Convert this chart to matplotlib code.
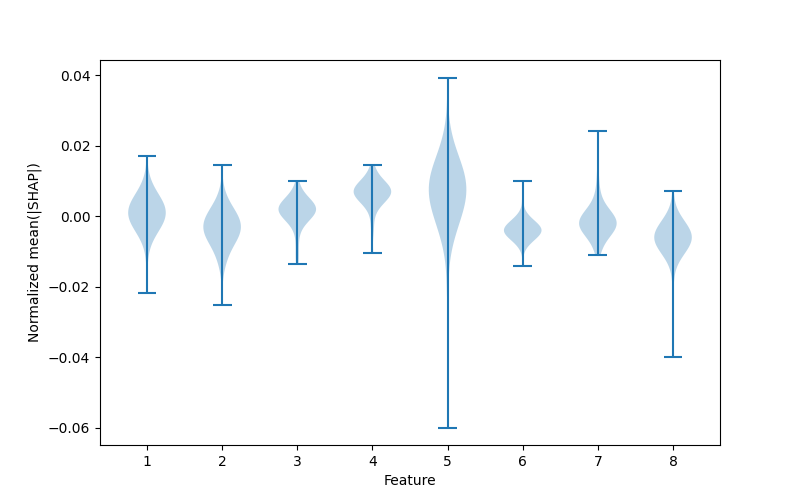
import numpy as np
import matplotlib
matplotlib.use('Agg')
import matplotlib.pyplot as plt

# normalized mean(|SHAP|) values per feature, written as value / count pairs
features = [1, 2, 3, 4, 5, 6, 7, 8]

f1_vals = [-0.0217, -0.014, -0.011, -0.009, -0.007, -0.005, -0.003, -0.001, 0.001,
           0.003, 0.005, 0.007, 0.009, 0.011, 0.013, 0.0172]
f1_counts = [1, 1, 1, 2, 4, 7, 11, 14, 15, 14, 11, 7, 4, 2, 1, 1]

f2_vals = [-0.0251, -0.018, -0.015, -0.013, -0.011, -0.009, -0.007, -0.005, -0.003,
           -0.001, 0.001, 0.003, 0.005, 0.007, 0.009, 0.0146]
f2_counts = [1, 1, 2, 3, 5, 7, 11, 14, 15, 14, 11, 7, 4, 2, 1, 1]

f3_vals = [-0.0137, -0.012, -0.010, -0.008, -0.006, -0.004, -0.002, 0.000, 0.002,
           0.004, 0.006, 0.008, 0.0099]
f3_counts = [1, 1, 1, 1, 1, 2, 5, 11, 15, 11, 5, 2, 1]

f4_vals = [-0.0103, -0.005, -0.003, -0.001, 0.001, 0.003, 0.005, 0.007, 0.009,
           0.011, 0.013, 0.0146]
f4_counts = [1, 1, 1, 1, 2, 5, 11, 15, 11, 5, 2, 1]

f5_vals = [-0.0600, -0.022, -0.017, -0.0133, -0.0103, -0.0073, -0.0043, -0.0013,
           0.0017, 0.0047, 0.0077, 0.0107, 0.0137, 0.0167, 0.0197, 0.0227, 0.0257,
           0.029, 0.0394]
f5_counts = [1, 1, 1, 1, 2, 4, 6, 9, 12, 14, 15, 14, 12, 8, 5, 3, 1, 1, 1]

f6_vals = [-0.0140, -0.010, -0.0085, -0.007, -0.0055, -0.004, -0.0025, -0.001,
           0.0005, 0.002, 0.005, 0.0099]
f6_counts = [1, 1, 3, 7, 12, 15, 12, 7, 3, 1, 1, 1]

f7_vals = [-0.0109, -0.010, -0.008, -0.006, -0.004, -0.002, 0.000, 0.002, 0.004,
           0.006, 0.008, 0.010, 0.013, 0.0243]
f7_counts = [1, 2, 3, 7, 12, 15, 12, 7, 3, 2, 1, 1, 1, 1]

f8_vals = [-0.0401, -0.019, -0.016, -0.014, -0.012, -0.010, -0.008, -0.006, -0.004,
           -0.002, 0.000, 0.002, 0.004, 0.0073]
f8_counts = [1, 1, 1, 2, 5, 9, 13, 15, 13, 9, 5, 2, 1, 1]

all_vals = [f1_vals, f2_vals, f3_vals, f4_vals, f5_vals, f6_vals, f7_vals, f8_vals]
all_counts = [f1_counts, f2_counts, f3_counts, f4_counts,
              f5_counts, f6_counts, f7_counts, f8_counts]

data = [np.repeat(v, c) for v, c in zip(all_vals, all_counts)]

plt.figure(figsize=(8, 5))
plt.violinplot(data, positions=features)
plt.xticks(features)
plt.xlabel("Feature")
plt.ylabel("Normalized mean(|SHAP|)")
plt.savefig('out.png', dpi=100)
